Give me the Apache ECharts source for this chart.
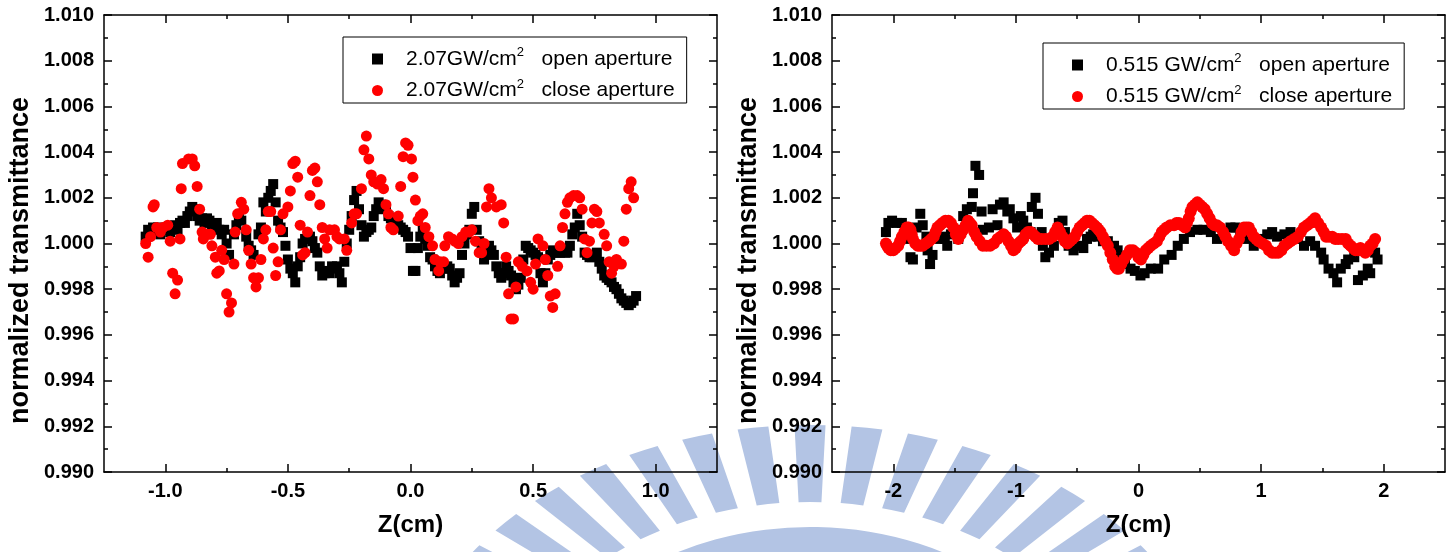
<!DOCTYPE html>
<html>
<head>
<meta charset="utf-8">
<script src="https://cdn.jsdelivr.net/npm/echarts@6/dist/echarts.min.js"></script>
<style>
  html, body { margin: 0; padding: 0; background: #fff; }
  #chart { width: 1456px; height: 552px; }
</style>
</head>
<body>
<div id="chart"></div>
<script>
// [z (cm), normalized transmittance]
const leftOpen = [
  [-1.08, 1.0003], [-1.07, 1.0006], [-1.06, 1.0005], [-1.05, 1.0007], [-1.04, 1.0006], [-1.03, 1.0007],
  [-1.02, 1.0004], [-1.00, 1.0006], [-0.99, 1.0007], [-0.98, 1.0005], [-0.96, 1.0008], [-0.95, 1.0006],
  [-0.94, 1.0009], [-0.93, 1.0010], [-0.92, 1.0009], [-0.91, 1.0012], [-0.90, 1.0014], [-0.89, 1.0016],
  [-0.88, 1.0015], [-0.87, 1.0012], [-0.86, 1.0010], [-0.85, 1.0011], [-0.84, 1.0009], [-0.83, 1.0011],
  [-0.82, 1.0010], [-0.81, 1.0008], [-0.80, 1.0007], [-0.79, 1.0009], [-0.78, 1.0006], [-0.77, 1.0004],
  [-0.76, 1.0006], [-0.75, 1.0000], [-0.74, 0.9995], [-0.72, 1.0004], [-0.71, 1.0008], [-0.70, 1.0012],
  [-0.69, 1.0010], [-0.67, 1.0003], [-0.66, 0.9999], [-0.65, 0.9997], [-0.64, 0.9995], [-0.62, 1.0004],
  [-0.61, 1.0007], [-0.60, 1.0018], [-0.59, 1.0014], [-0.58, 1.0020], [-0.57, 1.0023], [-0.56, 1.0026],
  [-0.55, 1.0018], [-0.54, 1.0010], [-0.53, 1.0007], [-0.52, 1.0005], [-0.51, 0.9999], [-0.50, 0.9993],
  [-0.49, 0.9989], [-0.48, 0.9987], [-0.47, 0.9983], [-0.46, 0.9990], [-0.45, 0.9994], [-0.44, 1.0000],
  [-0.43, 1.0002], [-0.41, 1.0003], [-0.40, 1.0001], [-0.39, 0.9998], [-0.38, 0.9996], [-0.37, 0.9990],
  [-0.36, 0.9986], [-0.35, 0.9987], [-0.34, 0.9988], [-0.33, 0.9987], [-0.32, 0.9990], [-0.31, 0.9989],
  [-0.30, 0.9990], [-0.29, 0.9987], [-0.28, 0.9983], [-0.27, 0.9992], [-0.26, 1.0000], [-0.25, 1.0006],
  [-0.24, 1.0012], [-0.23, 1.0019], [-0.22, 1.0023], [-0.21, 1.0015], [-0.20, 1.0008], [-0.19, 1.0003],
  [-0.18, 1.0005], [-0.17, 1.0006], [-0.16, 1.0007], [-0.15, 1.0012], [-0.14, 1.0015], [-0.13, 1.0018],
  [-0.12, 1.0017], [-0.11, 1.0016], [-0.10, 1.0015], [-0.09, 1.0012], [-0.08, 1.0011], [-0.07, 1.0010],
  [-0.06, 1.0009], [-0.05, 1.0008], [-0.04, 1.0007], [-0.03, 1.0006], [-0.02, 1.0005], [-0.01, 1.0003],
  [0.00, 0.9998], [0.01, 0.9988], [0.02, 0.9988], [0.03, 0.9998], [0.04, 1.0003], [0.05, 1.0006],
  [0.06, 1.0002], [0.07, 0.9999], [0.08, 0.9994], [0.09, 0.9993], [0.10, 0.9990], [0.11, 0.9988],
  [0.12, 0.9987], [0.13, 0.9990], [0.14, 0.9989], [0.15, 0.9990], [0.16, 0.9989], [0.17, 0.9986],
  [0.18, 0.9983], [0.19, 0.9985], [0.20, 0.9987], [0.21, 0.9995], [0.22, 1.0000], [0.23, 1.0004],
  [0.24, 1.0006], [0.25, 1.0013], [0.26, 1.0016], [0.27, 1.0006], [0.28, 1.0001], [0.29, 0.9999],
  [0.30, 0.9993], [0.31, 0.9996], [0.32, 0.9999], [0.33, 0.9997], [0.34, 0.9995], [0.35, 0.9990],
  [0.36, 0.9987], [0.37, 0.9985], [0.38, 0.9987], [0.39, 0.9990], [0.40, 0.9988], [0.41, 0.9986],
  [0.42, 0.9983], [0.43, 0.9980], [0.44, 0.9982], [0.45, 0.9985], [0.46, 0.9993], [0.47, 0.9999],
  [0.48, 0.9998], [0.49, 0.9997], [0.50, 0.9996], [0.51, 0.9995], [0.52, 0.9994], [0.53, 0.9987],
  [0.54, 0.9983], [0.55, 0.9987], [0.56, 0.9993], [0.57, 0.9995], [0.58, 0.9997], [0.59, 0.9996],
  [0.60, 0.9996], [0.61, 0.9996], [0.62, 0.9997], [0.63, 0.9996], [0.64, 0.9996], [0.65, 0.9999],
  [0.66, 1.0004], [0.67, 1.0007], [0.68, 1.0013], [0.69, 1.0008], [0.70, 1.0003], [0.71, 0.9996],
  [0.72, 0.9995], [0.73, 0.9994], [0.74, 0.9994], [0.75, 0.9995], [0.76, 0.9996], [0.77, 0.9992],
  [0.78, 0.9989], [0.79, 0.9986], [0.80, 0.9985], [0.81, 0.9984], [0.82, 0.9983], [0.83, 0.9981],
  [0.84, 0.9980], [0.85, 0.9978], [0.86, 0.9976], [0.87, 0.9975], [0.88, 0.9974], [0.89, 0.9973],
  [0.90, 0.9974], [0.91, 0.9975], [0.92, 0.9977]
];
const leftClose = [
  [-1.08, 1.0000], [-1.07, 0.9994], [-1.06, 1.0003], [-1.05, 1.0016], [-1.045, 1.0017], [-1.035, 1.0007],
  [-1.02, 1.0005], [-1.01, 1.0007], [-0.99, 1.0008], [-0.98, 1.0001], [-0.97, 0.9987], [-0.96, 0.9978],
  [-0.95, 0.9984], [-0.94, 1.0002], [-0.935, 1.0024], [-0.93, 1.0035], [-0.905, 1.0037], [-0.89, 1.0037],
  [-0.88, 1.0034], [-0.87, 1.0025], [-0.86, 1.0015], [-0.85, 1.0005], [-0.845, 1.0002], [-0.83, 1.0004],
  [-0.816, 1.0004], [-0.81, 0.9999], [-0.796, 0.9994], [-0.79, 0.9987], [-0.78, 0.9988], [-0.77, 0.9997],
  [-0.76, 0.9993], [-0.75, 0.9978], [-0.74, 0.9970], [-0.73, 0.9974], [-0.72, 0.9991], [-0.715, 1.0005],
  [-0.705, 1.0013], [-0.69, 1.0018], [-0.68, 1.0015], [-0.67, 1.0006], [-0.66, 0.9997], [-0.65, 0.9991],
  [-0.64, 0.9985], [-0.63, 0.9981], [-0.62, 0.9985], [-0.61, 0.9993], [-0.60, 1.0002], [-0.59, 1.0006],
  [-0.58, 1.0014], [-0.57, 1.0014], [-0.56, 0.9998], [-0.55, 0.9986], [-0.54, 0.9992], [-0.53, 1.0006],
  [-0.52, 1.0013], [-0.50, 1.0016], [-0.49, 1.0023], [-0.48, 1.0035], [-0.47, 1.0036], [-0.46, 1.0029],
  [-0.45, 1.0008], [-0.44, 0.9995], [-0.43, 0.9996], [-0.42, 1.0005], [-0.41, 1.0021], [-0.40, 1.0032],
  [-0.39, 1.0033], [-0.38, 1.0027], [-0.37, 1.0017], [-0.36, 1.0007], [-0.35, 1.0002], [-0.34, 0.9998],
  [-0.33, 1.0006], [-0.31, 1.0006], [-0.30, 1.0003], [-0.29, 1.0002], [-0.27, 1.0002], [-0.26, 0.9997],
  [-0.24, 1.0009], [-0.23, 1.0013], [-0.22, 1.0013], [-0.20, 1.0024], [-0.19, 1.0041], [-0.18, 1.0047],
  [-0.17, 1.0037], [-0.16, 1.0030], [-0.15, 1.0027], [-0.135, 1.0026], [-0.12, 1.0028], [-0.11, 1.0024],
  [-0.10, 1.0017], [-0.09, 1.0013], [-0.08, 1.0007], [-0.07, 1.0006], [-0.05, 1.0012], [-0.04, 1.0025],
  [-0.03, 1.0038], [-0.02, 1.0044], [-0.01, 1.0043], [0.004, 1.0037], [0.01, 1.0029], [0.02, 1.0019],
  [0.03, 1.0010], [0.04, 1.0012], [0.05, 1.0013], [0.06, 1.0007], [0.075, 1.0003], [0.09, 0.9999],
  [0.10, 0.9993], [0.115, 0.9988], [0.12, 0.9992], [0.135, 0.9992], [0.14, 0.9999], [0.155, 1.0003],
  [0.17, 1.0002], [0.18, 1.0001], [0.195, 1.0000], [0.21, 1.0003], [0.225, 1.0005], [0.24, 1.0005],
  [0.25, 1.0006], [0.265, 1.0001], [0.28, 0.9996], [0.29, 0.9996], [0.30, 1.0000], [0.31, 1.0016],
  [0.32, 1.0024], [0.33, 1.0020], [0.35, 1.0016], [0.37, 1.0017], [0.38, 1.0009], [0.39, 0.9994],
  [0.40, 0.9978], [0.41, 0.9967], [0.42, 0.9967], [0.43, 0.9981], [0.44, 0.9992], [0.455, 0.9990],
  [0.475, 0.9988], [0.49, 0.9983], [0.50, 0.9980], [0.51, 0.9991], [0.52, 1.0002], [0.54, 0.9999],
  [0.55, 0.9993], [0.56, 0.9986], [0.57, 0.9977], [0.58, 0.9972], [0.59, 0.9978], [0.60, 0.9990],
  [0.61, 0.9999], [0.62, 1.0007], [0.63, 1.0013], [0.64, 1.0018], [0.65, 1.0020], [0.665, 1.0021],
  [0.68, 1.0021], [0.69, 1.0020], [0.70, 1.0015], [0.71, 1.0002], [0.72, 0.9996], [0.73, 1.0001],
  [0.74, 1.0009], [0.75, 1.0015], [0.76, 1.0014], [0.77, 1.0009], [0.79, 1.0004], [0.80, 0.9999],
  [0.81, 0.9992], [0.82, 0.9987], [0.83, 0.9990], [0.84, 0.9993], [0.86, 0.9991], [0.87, 1.0001],
  [0.88, 1.0015], [0.89, 1.0024], [0.90, 1.0027], [0.91, 1.0020]
];
const rightOpen = [
  [-2.06, 1.0005], [-2.04, 1.0009], [-2.01, 1.0010], [-1.97, 1.0009], [-1.93, 1.0009], [-1.89, 1.0002],
  [-1.86, 0.9994], [-1.84, 0.9993], [-1.81, 1.0007], [-1.78, 1.0013], [-1.76, 1.0008], [-1.73, 1.0003],
  [-1.72, 0.9997], [-1.70, 0.9991], [-1.68, 0.9995], [-1.64, 1.0002], [-1.60, 1.0003], [-1.58, 1.0002],
  [-1.56, 0.9999], [-1.53, 1.0004], [-1.50, 1.0005], [-1.47, 1.0002], [-1.44, 1.0006], [-1.43, 1.0012],
  [-1.40, 1.0015], [-1.36, 1.0016], [-1.35, 1.0022], [-1.33, 1.0034], [-1.30, 1.0030], [-1.28, 1.0014],
  [-1.27, 1.0006], [-1.22, 1.0007], [-1.19, 1.0015], [-1.15, 1.0008], [-1.13, 1.0017], [-1.10, 1.0018],
  [-1.07, 1.0014], [-1.05, 1.0015], [-1.02, 1.0011], [-0.99, 1.0007], [-0.96, 1.0012], [-0.94, 1.0010],
  [-0.91, 1.0007], [-0.88, 1.0005], [-0.87, 1.0016], [-0.84, 1.0020], [-0.82, 1.0013], [-0.79, 1.0005],
  [-0.78, 0.9999], [-0.76, 0.9994], [-0.73, 0.9996], [-0.69, 0.9999], [-0.65, 1.0009], [-0.62, 1.0010],
  [-0.60, 1.0005], [-0.57, 0.9999], [-0.53, 0.9997], [-0.49, 0.9999], [-0.45, 0.9998], [-0.42, 1.0002],
  [-0.39, 1.0003], [-0.37, 1.0004], [-0.33, 1.0003], [-0.29, 1.0001], [-0.25, 1.0001], [-0.23, 0.9997],
  [-0.20, 0.9999], [-0.17, 0.9997], [-0.15, 0.9993], [-0.11, 0.9991], [-0.065, 0.9989], [-0.03, 0.9988],
  [0.016, 0.9986], [0.05, 0.9987], [0.10, 0.9989], [0.16, 0.9989], [0.21, 0.9993], [0.27, 0.9995],
  [0.32, 0.9999], [0.37, 1.0002], [0.42, 1.0005], [0.48, 1.0006], [0.53, 1.0006], [0.59, 1.0005],
  [0.64, 1.0002], [0.70, 1.0004], [0.75, 1.0007], [0.79, 1.0007], [0.83, 1.0005], [0.89, 1.0002],
  [0.94, 0.9999], [1.00, 1.0002], [1.05, 1.0004], [1.09, 1.0005], [1.13, 1.0003], [1.19, 1.0004],
  [1.24, 1.0005], [1.30, 1.0002], [1.35, 0.9999], [1.40, 1.0001], [1.44, 0.9999], [1.49, 0.9996],
  [1.51, 0.9993], [1.55, 0.9989], [1.59, 0.9987], [1.62, 0.9983], [1.65, 0.9989], [1.69, 0.9991],
  [1.71, 0.9993], [1.76, 0.9994], [1.79, 0.9984], [1.83, 0.9986], [1.87, 0.9989], [1.89, 0.9987],
  [1.93, 0.9996], [1.95, 0.9993]
];
const rightClose = [
  [-2.06, 1.0000], [-2.05, 0.9999], [-2.04, 0.9998], [-2.02, 0.9997], [-2.00, 0.9997], [-1.98, 0.9998],
  [-1.96, 0.9999], [-1.945, 1.0001], [-1.93, 1.0003], [-1.91, 1.0005], [-1.89, 1.0007], [-1.875, 1.0007],
  [-1.86, 1.0006], [-1.85, 1.0004], [-1.84, 1.0002], [-1.82, 1.0000], [-1.80, 0.9999], [-1.78, 0.9999],
  [-1.76, 0.9999], [-1.735, 1.0000], [-1.71, 1.0001], [-1.69, 1.0002], [-1.67, 1.0003], [-1.655, 1.0005],
  [-1.64, 1.0007], [-1.62, 1.0008], [-1.60, 1.0009], [-1.575, 1.0010], [-1.55, 1.0010], [-1.53, 1.0009],
  [-1.51, 1.0007], [-1.49, 1.0004], [-1.47, 1.0002], [-1.45, 1.0004], [-1.43, 1.0006], [-1.41, 1.0008],
  [-1.39, 1.0010], [-1.375, 1.0009], [-1.36, 1.0008], [-1.34, 1.0005], [-1.32, 1.0003], [-1.295, 1.0001],
  [-1.27, 0.9999], [-1.24, 0.9999], [-1.21, 0.9999], [-1.18, 1.0000], [-1.15, 1.0002], [-1.125, 1.0003],
  [-1.10, 1.0004], [-1.08, 1.0003], [-1.06, 1.0001], [-1.04, 0.9999], [-1.02, 0.9997], [-1.00, 0.9998],
  [-0.98, 1.0000], [-0.96, 1.0001], [-0.94, 1.0002], [-0.92, 1.0004], [-0.90, 1.0005], [-0.88, 1.0005],
  [-0.86, 1.0004], [-0.84, 1.0003], [-0.82, 1.0002], [-0.79, 1.0002], [-0.76, 1.0002], [-0.73, 1.0002],
  [-0.70, 1.0003], [-0.68, 1.0005], [-0.66, 1.0007], [-0.64, 1.0005], [-0.62, 1.0003], [-0.60, 1.0001],
  [-0.58, 1.0000], [-0.56, 1.0001], [-0.54, 1.0002], [-0.52, 1.0003], [-0.50, 1.0005], [-0.48, 1.0007],
  [-0.46, 1.0008], [-0.44, 1.0009], [-0.42, 1.0010], [-0.40, 1.0010], [-0.38, 1.0009], [-0.36, 1.0008],
  [-0.34, 1.0007], [-0.325, 1.0006], [-0.31, 1.0005], [-0.29, 1.0003], [-0.27, 1.0001], [-0.25, 0.9999],
  [-0.23, 0.9996], [-0.21, 0.9993], [-0.19, 0.9990], [-0.175, 0.9989], [-0.16, 0.9989], [-0.14, 0.9991],
  [-0.12, 0.9993], [-0.095, 0.9995], [-0.07, 0.9997], [-0.045, 0.9997], [-0.02, 0.9996], [0.00, 0.9994],
  [0.02, 0.9993], [0.04, 0.9995], [0.06, 0.9997], [0.08, 0.9998], [0.10, 0.9999], [0.125, 1.0000],
  [0.15, 1.0001], [0.17, 1.0003], [0.19, 1.0005], [0.21, 1.0006], [0.23, 1.0007], [0.26, 1.0008],
  [0.29, 1.0008], [0.31, 1.0009], [0.33, 1.0009], [0.355, 1.0008], [0.38, 1.0007], [0.395, 1.0009],
  [0.41, 1.0011], [0.425, 1.0014], [0.44, 1.0016], [0.46, 1.0017], [0.48, 1.0018], [0.50, 1.0017],
  [0.52, 1.0016], [0.54, 1.0015], [0.56, 1.0013], [0.58, 1.0011], [0.60, 1.0009], [0.62, 1.0008],
  [0.64, 1.0008], [0.665, 1.0007], [0.69, 1.0005], [0.71, 1.0003], [0.73, 1.0001], [0.755, 0.9999],
  [0.78, 0.9997], [0.80, 1.0000], [0.82, 1.0002], [0.84, 1.0005], [0.86, 1.0007], [0.88, 1.0007],
  [0.90, 1.0007], [0.92, 1.0005], [0.94, 1.0003], [0.96, 1.0002], [0.98, 1.0001], [1.01, 1.0000],
  [1.04, 0.9999], [1.065, 0.9997], [1.09, 0.9996], [1.115, 0.9996], [1.14, 0.9996], [1.165, 0.9997],
  [1.19, 0.9999], [1.215, 1.0000], [1.24, 1.0001], [1.27, 1.0002], [1.30, 1.0003], [1.325, 1.0005],
  [1.35, 1.0007], [1.375, 1.0008], [1.40, 1.0009], [1.42, 1.0010], [1.44, 1.0011], [1.465, 1.0009],
  [1.49, 1.0007], [1.51, 1.0005], [1.53, 1.0003], [1.555, 1.0003], [1.58, 1.0003], [1.605, 1.0002],
  [1.63, 1.0002], [1.66, 1.0002], [1.69, 1.0002], [1.71, 1.0000], [1.73, 0.9999], [1.75, 0.9998],
  [1.77, 0.9997], [1.79, 0.9997], [1.81, 0.9998], [1.83, 0.9997], [1.85, 0.9996], [1.87, 0.9997],
  [1.89, 0.9999], [1.91, 1.0000], [1.93, 1.0002]
];

const leftMajor = [-1, -0.5, 0, 0.5, 1];
const leftMinor = [-0.75, -0.25, 0.25, 0.75];
const rightMajor = [-2, -1, 0, 1, 2];
const rightMinor = [-1.5, -0.5, 0.5, 1.5];

const legendText = {
  open: '{g|}{a|2.07GW/cm}{s|2}{a|   open aperture}',
  close: '{g|}{a|2.07GW/cm}{s|2}{a|   close aperture}',
  open2: '{g|}{a|0.515 GW/cm}{s|2}{a|   open aperture}',
  close2: '{g|}{a|0.515 GW/cm}{s|2}{a|   close aperture}'
};

const FONT = "'Liberation Sans', Arial, sans-serif";
const line = { color: '#000', width: 1.5 };

function xAxes(gridIndex, min, max, major, minor, digits) {
  const base = { type: 'value', gridIndex: gridIndex, min: min, max: max, splitLine: { show: false } };
  return [
    {
      ...base,
      position: 'bottom',
      name: 'Z(cm)',
      nameLocation: 'middle',
      nameGap: 41,
      nameTextStyle: { fontFamily: FONT, fontSize: 24, fontWeight: 'bold', color: '#000' },
      axisLine: { onZero: false, lineStyle: line },
      axisTick: { inside: true, length: 8, customValues: major, lineStyle: line },
      axisLabel: {
        customValues: major,
        margin: 9,
        formatter: function (v) { return v.toFixed(digits) },
        fontFamily: FONT, fontSize: 20, fontWeight: 'bold', color: '#000'
      }
    },
    { ...base, position: 'bottom', axisLine: { show: false, onZero: false }, axisLabel: { show: false },
      axisTick: { inside: true, length: 4, customValues: minor, lineStyle: line } },
    { ...base, position: 'top', axisLine: { onZero: false, lineStyle: line }, axisLabel: { show: false },
      axisTick: { inside: true, length: 8, customValues: major, lineStyle: line } },
    { ...base, position: 'top', axisLine: { show: false, onZero: false }, axisLabel: { show: false },
      axisTick: { inside: true, length: 4, customValues: minor, lineStyle: line } }
  ]
}

function yAxes(gridIndex) {
  const base = {
    type: 'value', gridIndex: gridIndex, min: 0.99, max: 1.01, interval: 0.002,
    splitLine: { show: false },
    axisLine: { show: true, onZero: false, lineStyle: line },
    axisTick: { inside: true, length: 8, lineStyle: line },
    minorTick: { show: true, splitNumber: 2, length: 4, lineStyle: line }
  };
  return [
    {
      ...base,
      position: 'left',
      name: 'normalized transmittance',
      nameLocation: 'middle',
      nameRotate: 90,
      nameGap: 70,
      nameTextStyle: { fontFamily: FONT, fontSize: 27, fontWeight: 'bold', color: '#000', padding: [0, 34, 0, 0] },
      axisLabel: {
        margin: 10,
        formatter: function (v) { return v.toFixed(3) },
        fontFamily: FONT, fontSize: 20, fontWeight: 'bold', color: '#000'
      }
    },
    { ...base, position: 'right', axisLabel: { show: false } }
  ]
}

function legend(names, left, top) {
  return {
    data: names,
    orient: 'vertical',
    left: left,
    top: top,
    padding: [9, 12, 2, 29],
    itemGap: 8,
    itemWidth: 11,
    itemHeight: 11,
    borderColor: '#000',
    borderWidth: 1,
    backgroundColor: '#fff',
    selectedMode: false,
    formatter: function (name) { return legendText[name] },
    textStyle: {
      rich: {
        g: { width: 18 },
        a: { fontFamily: FONT, fontSize: 21, color: '#000', lineHeight: 26 },
        s: { fontFamily: FONT, fontSize: 13, color: '#000', verticalAlign: 'top', lineHeight: 13 }
      }
    }
  }
}

function scatter(name, data, xi, yi, sym, color, size) {
  return {
    name: name, type: 'scatter', data: data, xAxisIndex: xi, yAxisIndex: yi,
    symbol: sym, symbolSize: size, itemStyle: { color: color, opacity: 1 }
  }
}

// faint logo watermark behind the plots
const logo = [];
for (let k = -7; k <= 7; k++) {
  const a = -Math.PI / 2 + k * 0.14;
  logo.push({ type: 'sector', shape: { cx: 0, cy: 0, r0: 215, r: 292, startAngle: a - 0.038, endAngle: a + 0.038 },
    style: { fill: '#b3c4e4' } });
}
logo.push({ type: 'sector', shape: { cx: 0, cy: 0, r0: 150, r: 190, startAngle: -Math.PI / 2 - 1.15, endAngle: -Math.PI / 2 + 1.15 },
  style: { fill: '#b3c4e4' } });

const chart = echarts.init(document.getElementById('chart'), null, { renderer: 'canvas' });
chart.setOption({
  animation: false,
  backgroundColor: '#fff',
  textStyle: { fontFamily: FONT },
  graphic: [{ type: 'group', x: 810, y: 717, scaleX: 1.4, z: -10, silent: true, children: logo }],
  grid: [
    { left: 104, top: 15, width: 613, height: 457 },
    { left: 832, top: 15, width: 613, height: 457 }
  ],
  xAxis: xAxes(0, -1.25, 1.25, leftMajor, leftMinor, 1).concat(xAxes(1, -2.5, 2.5, rightMajor, rightMinor, 0)),
  yAxis: yAxes(0).concat(yAxes(1)),
  legend: [legend(['open', 'close'], 343, 37), legend(['open2', 'close2'], 1043, 43)],
  series: [
    scatter('open', leftOpen, 0, 0, 'rect', '#000', 10),
    scatter('close', leftClose, 0, 0, 'circle', '#ff0000', 11),
    scatter('open2', rightOpen, 4, 2, 'rect', '#000', 10),
    scatter('close2', rightClose, 4, 2, 'circle', '#ff0000', 12)
  ]
});
</script>
</body>
</html>
